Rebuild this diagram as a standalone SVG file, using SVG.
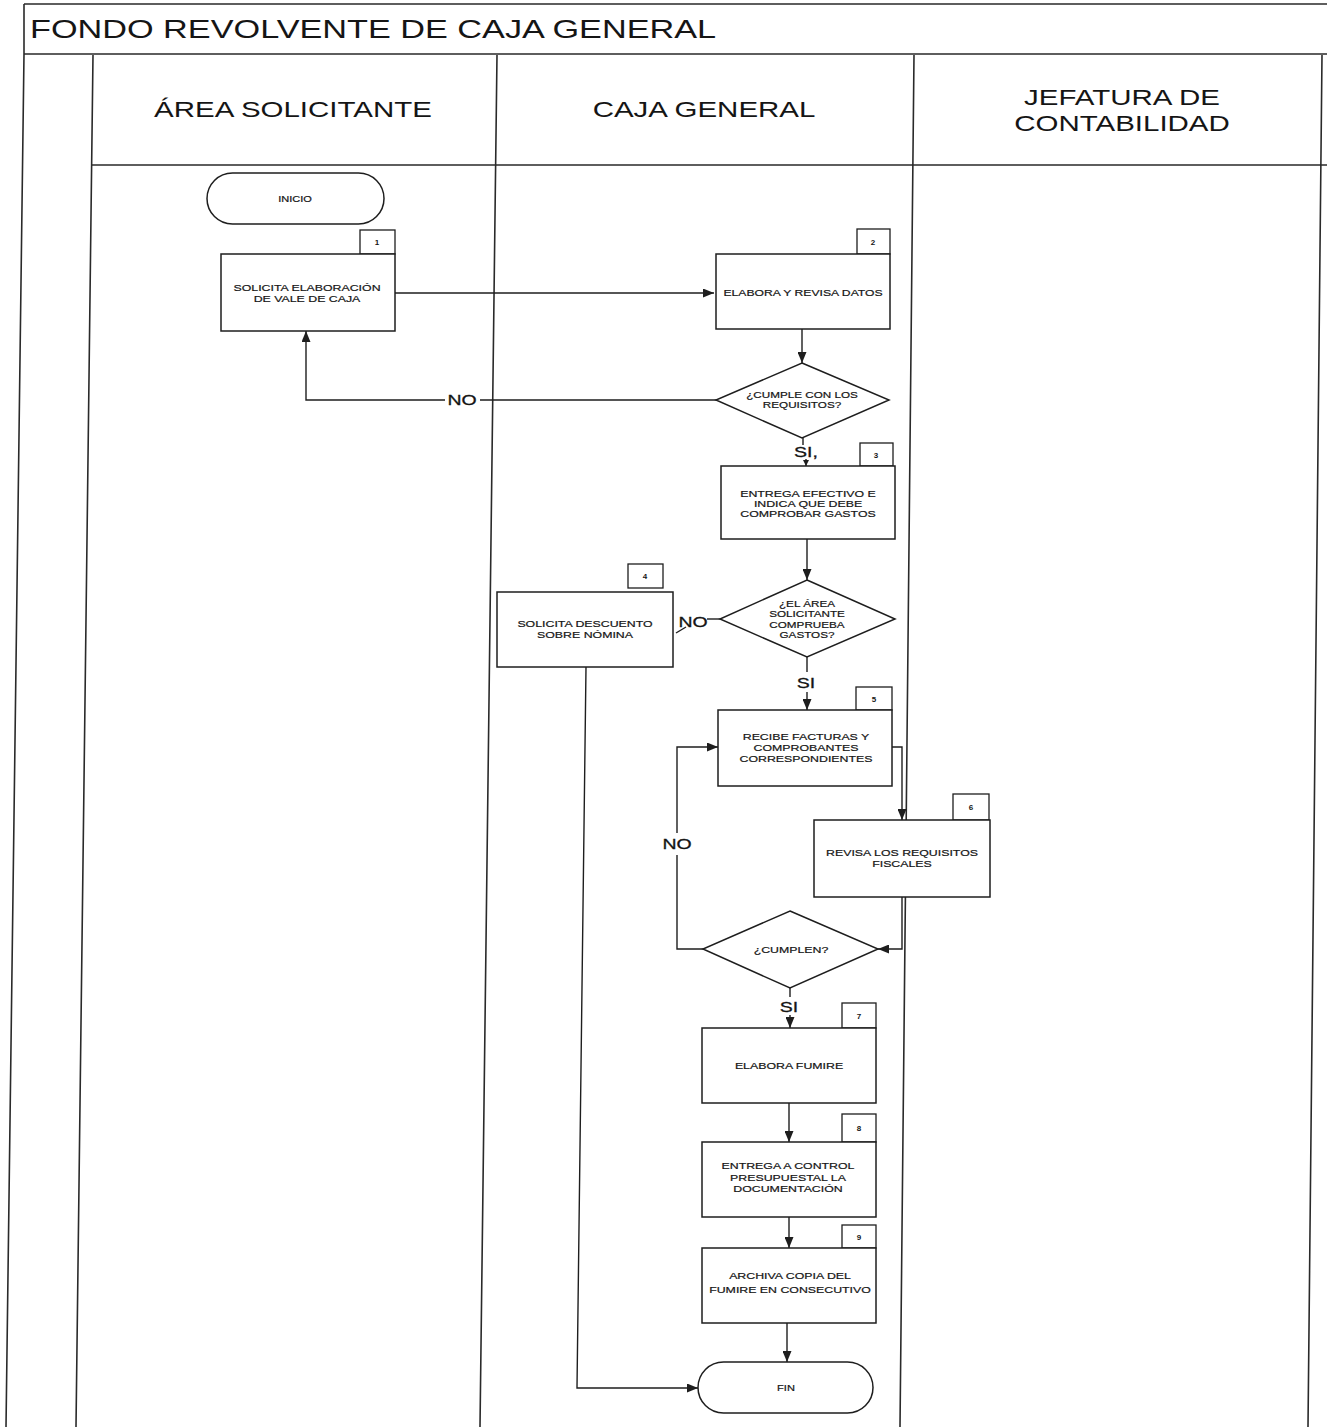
<svg xmlns="http://www.w3.org/2000/svg" width="1327" height="1427" viewBox="0 0 1327 1427">
<defs>
<style>
.bg{fill:#fff}
.frame{fill:none;stroke:#2a2a2a;stroke-width:1.6}
.shape{fill:#fff;stroke:#1e1e1e;stroke-width:1.5}
.num{fill:#fff;stroke:#1e1e1e;stroke-width:1.3}
.conn{fill:none;stroke:#1e1e1e;stroke-width:1.4}
text{font-family:"Liberation Sans",Arial,sans-serif;fill:#151515;text-anchor:middle}
.t{font-size:9.5px;stroke:#151515;stroke-width:0.2}
.n{font-size:8px;font-weight:bold}
.lbl{font-size:15px;stroke:#151515;stroke-width:0.3}
.hdr{font-size:22px}
.title{font-size:25px;text-anchor:start}
</style>
<marker id="ah" markerUnits="userSpaceOnUse" markerWidth="11" markerHeight="9" refX="11" refY="4.5" orient="auto">
<path d="M0,0 L11,4.5 L0,9 z" fill="#1e1e1e"/>
</marker>
<marker id="ahs" markerUnits="userSpaceOnUse" markerWidth="6" markerHeight="6" refX="6" refY="3" orient="auto">
<path d="M0,0 L6,3 L0,6 z" fill="#1e1e1e"/>
</marker>
</defs>
<rect class="bg" x="0" y="0" width="1327" height="1427"/>

<g id="frame">
<path class="frame" d="M24,4 H1327 M24,4 V54 M24,54 H1327"/>
<path class="frame" d="M24,54 L6,1427 M93,55 L76,1427 M497,55 L480,1427 M914,55 L900,1427 M1322,55 L1308,1427 M92,165 H1327"/>
<text class="title" transform="translate(30 0) scale(1.37 1)" x="0" y="38">FONDO REVOLVENTE DE CAJA GENERAL</text>
</g>

<g id="lane-headers">
<text class="hdr" transform="translate(293 0) scale(1.34 1)" x="0" y="117">ÁREA SOLICITANTE</text>
<text class="hdr" transform="translate(704 0) scale(1.34 1)" x="0" y="117">CAJA GENERAL</text>
<text class="hdr" transform="translate(1122 0) scale(1.34 1)"><tspan x="0" y="105">JEFATURA DE</tspan><tspan x="0" y="131">CONTABILIDAD</tspan></text>
</g>

<g id="connectors">
<path class="conn" d="M395,293 H714" marker-end="url(#ah)"/>
<path class="conn" d="M802,329 V363" marker-end="url(#ah)"/>
<path class="conn" d="M716,400 H480 M445,400 H306 V331" marker-end="url(#ah)"/>
<path class="conn" d="M803,438 V445 M806,459 V466" marker-end="url(#ahs)"/>
<path class="conn" d="M807,539 V580" marker-end="url(#ah)"/>
<path class="conn" d="M720,619 H707"/>
<path class="conn" d="M686,627 L676,633" stroke-width="2.2"/>
<path class="conn" d="M586,667 L577,1388 H698" marker-end="url(#ah)"/>
<path class="conn" d="M807,657 V672 M807,692 V710" marker-end="url(#ah)"/>
<path class="conn" d="M892,747 H902 V820" marker-end="url(#ah)"/>
<path class="conn" d="M902,897 V949 H878" marker-end="url(#ah)"/>
<path class="conn" d="M703,949 H677 V855 M677,833 V747 H718" marker-end="url(#ah)"/>
<path class="conn" d="M790,988 V997 M790,1015 V1028" marker-end="url(#ah)"/>
<path class="conn" d="M789,1103 V1142" marker-end="url(#ah)"/>
<path class="conn" d="M789,1217 V1248" marker-end="url(#ah)"/>
<path class="conn" d="M787,1323 V1362" marker-end="url(#ah)"/>
<text class="lbl" transform="translate(462 0) scale(1.3 1)" x="0" y="405">NO</text>
<text class="lbl" transform="translate(806 0) scale(1.3 1)" x="0" y="457">SI,</text>
<text class="lbl" transform="translate(693 0) scale(1.3 1)" x="0" y="627">NO</text>
<text class="lbl" transform="translate(806 0) scale(1.3 1)" x="0" y="688">SI</text>
<text class="lbl" transform="translate(677 0) scale(1.3 1)" x="0" y="849">NO</text>
<text class="lbl" transform="translate(789 0) scale(1.3 1)" x="0" y="1012">SI</text>
</g>

<g id="inicio">
<rect class="shape" x="207" y="173" width="177" height="51" rx="25.5"/>
<text class="t" transform="translate(295 0) scale(1.3 1)" x="0" y="202" style="font-size:8.5px">INICIO</text>
</g>

<g id="step1">
<rect class="num" x="360" y="230" width="35" height="24"/>
<text class="n" x="377" y="245">1</text>
<rect class="shape" x="221" y="254" width="174" height="77"/>
<text class="t" transform="translate(307 0) scale(1.3 1)"><tspan x="0" y="291">SOLICITA ELABORACIÓN</tspan><tspan x="0" y="302">DE VALE DE CAJA</tspan></text>
</g>

<g id="step2">
<rect class="num" x="857" y="229" width="33" height="25"/>
<text class="n" x="873" y="245">2</text>
<rect class="shape" x="716" y="254" width="174" height="75"/>
<text class="t" transform="translate(803 0) scale(1.28 1)" x="0" y="296">ELABORA Y REVISA DATOS</text>
</g>

<g id="decision1">
<polygon class="shape" points="802,363 889,400 802,438 716,400"/>
<text class="t" transform="translate(802 0) scale(1.3 1)" style="font-size:9px"><tspan x="0" y="398">¿CUMPLE CON LOS</tspan><tspan x="0" y="408">REQUISITOS?</tspan></text>
</g>

<g id="step3">
<rect class="num" x="860" y="443" width="33" height="23"/>
<text class="n" x="876" y="458">3</text>
<rect class="shape" x="721" y="466" width="174" height="73"/>
<text class="t" transform="translate(808 0) scale(1.3 1)"><tspan x="0" y="497">ENTREGA EFECTIVO E</tspan><tspan x="0" y="507">INDICA QUE DEBE</tspan><tspan x="0" y="517">COMPROBAR GASTOS</tspan></text>
</g>

<g id="decision2">
<polygon class="shape" points="807,580 895,619 807,657 720,619"/>
<text class="t" transform="translate(807 0) scale(1.3 1)" style="font-size:9px"><tspan x="0" y="607">¿EL ÁREA</tspan><tspan x="0" y="617">SOLICITANTE</tspan><tspan x="0" y="628">COMPRUEBA</tspan><tspan x="0" y="638">GASTOS?</tspan></text>
</g>

<g id="step4">
<rect class="num" x="628" y="564" width="35" height="24"/>
<text class="n" x="645" y="579">4</text>
<rect class="shape" x="497" y="592" width="176" height="75"/>
<text class="t" transform="translate(585 0) scale(1.3 1)"><tspan x="0" y="627">SOLICITA DESCUENTO</tspan><tspan x="0" y="638">SOBRE NÓMINA</tspan></text>
</g>

<g id="step5">
<rect class="num" x="856" y="687" width="36" height="23"/>
<text class="n" x="874" y="702">5</text>
<rect class="shape" x="718" y="710" width="174" height="76"/>
<text class="t" transform="translate(806 0) scale(1.3 1)"><tspan x="0" y="740">RECIBE FACTURAS Y</tspan><tspan x="0" y="751">COMPROBANTES</tspan><tspan x="0" y="762">CORRESPONDIENTES</tspan></text>
</g>

<g id="step6">
<rect class="num" x="953" y="794" width="36" height="26"/>
<text class="n" x="971" y="810">6</text>
<rect class="shape" x="814" y="820" width="176" height="77"/>
<text class="t" transform="translate(902 0) scale(1.3 1)"><tspan x="0" y="856">REVISA LOS REQUISITOS</tspan><tspan x="0" y="867">FISCALES</tspan></text>
</g>

<g id="decision3">
<polygon class="shape" points="790,911 878,949 790,988 703,949"/>
<text class="t" transform="translate(791 0) scale(1.3 1)" x="0" y="953">¿CUMPLEN?</text>
</g>

<g id="step7">
<rect class="num" x="842" y="1003" width="34" height="25"/>
<text class="n" x="859" y="1019">7</text>
<rect class="shape" x="702" y="1028" width="174" height="75"/>
<text class="t" transform="translate(789 0) scale(1.3 1)" x="0" y="1069">ELABORA FUMIRE</text>
</g>

<g id="step8">
<rect class="num" x="842" y="1114" width="34" height="28"/>
<text class="n" x="859" y="1131">8</text>
<rect class="shape" x="702" y="1142" width="174" height="75"/>
<text class="t" transform="translate(788 0) scale(1.3 1)"><tspan x="0" y="1169">ENTREGA A CONTROL</tspan><tspan x="0" y="1181">PRESUPUESTAL LA</tspan><tspan x="0" y="1192">DOCUMENTACIÓN</tspan></text>
</g>

<g id="step9">
<rect class="num" x="842" y="1225" width="34" height="23"/>
<text class="n" x="859" y="1240">9</text>
<rect class="shape" x="702" y="1248" width="174" height="75"/>
<text class="t" transform="translate(790 0) scale(1.3 1)"><tspan x="0" y="1279">ARCHIVA COPIA DEL</tspan><tspan x="0" y="1293">FUMIRE EN CONSECUTIVO</tspan></text>
</g>

<g id="fin">
<rect class="shape" x="698" y="1362" width="175" height="51" rx="25.5"/>
<text class="t" transform="translate(786 0) scale(1.3 1)" x="0" y="1391" style="font-size:8.5px">FIN</text>
</g>
</svg>
